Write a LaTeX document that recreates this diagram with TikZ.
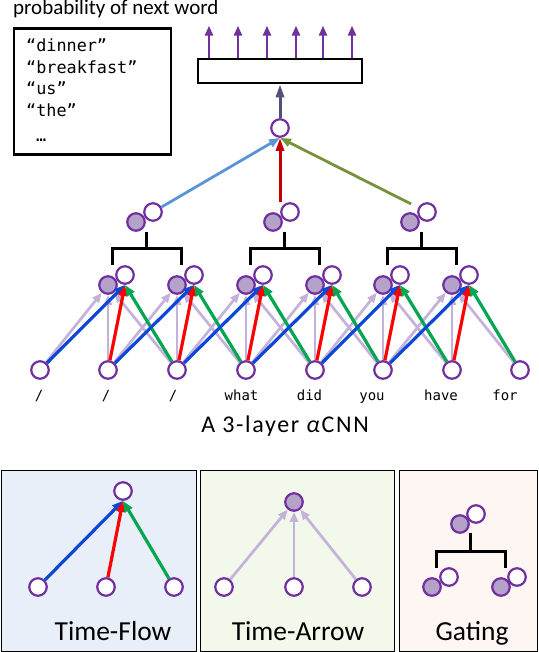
\documentclass[tikz,border=0pt]{standalone}
\usepackage{fontspec}
\setmainfont{Carlito}
\newfontfamily\monof{DejaVu Sans Mono}
\usetikzlibrary{arrows.meta,calc}
\definecolor{purp}{HTML}{7030A0}
\definecolor{lavfill}{HTML}{B4A2C8}
\definecolor{lav}{HTML}{C4B2DA}
\definecolor{blueA}{HTML}{0D47D6}
\definecolor{redA}{HTML}{FF0000}
\definecolor{greenA}{HTML}{00A650}
\definecolor{topblue}{HTML}{5B93D8}
\definecolor{topred}{HTML}{C00000}
\definecolor{topgreen}{HTML}{76923C}
\definecolor{slate}{HTML}{50507A}
\definecolor{pbg1}{HTML}{E8EFF8}
\definecolor{pbg2}{HTML}{F2F8EA}
\definecolor{pbg3}{HTML}{FDF6F2}
\tikzset{
  nd/.style={circle, draw=purp, line width=2.2pt, fill=white, minimum size=17.5pt, inner sep=0pt},
  ndf/.style={nd, fill=lavfill},
  carrow/.style={line width=3.2pt, -{Triangle[width=8.5pt,length=11pt]}},
  lavarrow/.style={draw=lav, line width=2.7pt, -{Triangle[width=8pt,length=10pt]}},
  bracket/.style={line width=3pt, draw=black},
  wordlab/.style={font=\monof\fontsize{14}{14}\selectfont, anchor=base, inner sep=0pt},
  listtxt/.style={font=\monof\fontsize{16.8}{16.8}\selectfont, anchor=base west, inner sep=0pt},
  panellab/.style={font=\fontsize{27.5}{27.5}\selectfont, anchor=base, inner sep=0pt},
}
\begin{document}
\begin{tikzpicture}[x=1pt,y=-1pt]
\useasboundingbox (0,0) rectangle (538,652);

% ---------- title and list box ----------
\node[font=\fontsize{21}{21}\selectfont, anchor=base west, inner sep=0pt] (title) at (13,15) {probability of next word};
\node[draw=black, line width=2.6pt, minimum width=157pt, minimum height=126pt, inner sep=0pt] (list) at (92.5,91.5) {};
\node[listtxt] (l1) at (26,52) {“dinner”};
\node[listtxt] (l2) at (26,73.5) {“breakfast”};
\node[listtxt] (l3) at (26,95) {“us”};
\node[listtxt] (l4) at (26,116.5) {“the”};
\node[listtxt] (l5) at (36,142) {…};

% ---------- output box ----------
\node[draw=black, line width=2.6pt, minimum width=164pt, minimum height=24pt, inner sep=0pt] (out) at (280,71) {};
\foreach \dx in {-71,-42,-13,16,43,72}
  \draw[line width=2.8pt, draw=purp, -{Triangle[width=8pt,length=10pt]}] ([xshift=\dx pt]out.north) -- ++(0,-32);

% ---------- top node ----------
\node[nd] (T) at (280,128) {};
\draw[line width=3pt, draw=slate, -{Triangle[width=8pt,length=13pt]}] (T) -- (out);

% ---------- layer 1 ----------
\foreach \i/\x in {0/40,1/108,2/177,3/246,4/315,5/383,6/452,7/520}
  \node[nd] (b\i) at (\x,370) {};
\foreach \i/\x in {1/108,2/177,3/246,4/315,5/383,6/452}{
  \node[ndf] (f\i) at (\x,285) {};
  \node[nd] (w\i) at (\x+17,275) {};
}
\foreach \i in {1,...,6}{
  \pgfmathtruncatemacro\p{\i-1}
  \pgfmathtruncatemacro\n{\i+1}
  \draw[lavarrow] (b\p) -- (f\i);
  \draw[lavarrow] (b\i) -- (f\i);
  \draw[lavarrow] (b\n) -- (f\i);
}
\foreach \i in {1,...,6}{
  \pgfmathtruncatemacro\p{\i-1}
  \pgfmathtruncatemacro\n{\i+1}
  \draw[carrow, draw=blueA, fill=blueA] (b\p) -- (w\i.south);
  \draw[carrow, draw=redA, fill=redA] (b\i) -- (w\i.south);
  \draw[carrow, draw=greenA, fill=greenA] (b\n) -- (w\i.south);
}

% words
\node[wordlab] (t0) at (39,400) {/};
\node[wordlab] (t1) at (106,400) {/};
\node[wordlab] (t2) at (173,400) {/};
\node[wordlab] (t3) at (241.5,400) {what};
\node[wordlab] (t4) at (309.5,400) {did};
\node[wordlab] (t5) at (372,400) {you};
\node[wordlab] (t6) at (441,400) {have};
\node[wordlab] (t7) at (505,400) {for};

% ---------- layer 3 ----------
\foreach \c/\x in {1/136,2/273,3/410}{
  \node[ndf] (F\c) at (\x,222) {};
  \node[nd] (W\c) at (\x+17,212) {};
}
\foreach \a/\b in {1/2,3/4,5/6}{
  \draw[bracket] ($(f\a)+(4,-20)$) |- ($(f\b)+(4,-37)$) -- ($(f\b)+(4,-20)$);
  \draw[bracket] ($(f\a)!.5!(f\b)+(4,-37)$) -- ($(f\a)!.5!(f\b)+(4,-53)$);
}

% ---------- top connectors ----------
\draw[line width=2.8pt, draw=topblue, fill=topblue, -{Triangle[width=8pt,length=11pt]}] (W1) -- (T.south);
\draw[line width=3pt, draw=topred, fill=topred, -{Triangle[width=8pt,length=13pt]}] (T.south |- W2.north) -- (T.south);
\draw[line width=2.8pt, draw=topgreen, fill=topgreen, -{Triangle[width=8pt,length=11pt]}, shorten <=8pt] (W3) -- (T.south);

% ---------- caption ----------
\node[font=\fontsize{24}{24}\selectfont\addfontfeature{LetterSpace=7}, anchor=base, inner sep=0pt] (cap) at (285,432) {A 3-layer \textit{α}CNN};

% ---------- bottom panels ----------
\draw[fill=pbg1, line width=0.9pt] (1,470) rectangle (196.5,651.5);
\draw[fill=pbg2, line width=0.9pt] (200,470) rectangle (394.5,651.5);
\draw[fill=pbg3, line width=0.9pt] (399,470) rectangle (537,651.5);

% panel 1: time-flow
\node[nd] (pt) at (123,491) {};
\node[nd] (pa) at (38,587) {};
\node[nd] (pb) at (106,587) {};
\node[nd] (pc) at (174,587) {};
\draw[carrow, draw=blueA, fill=blueA] (pa) -- (pt.south);
\draw[carrow, draw=redA, fill=redA] (pb) -- (pt.south);
\draw[carrow, draw=greenA, fill=greenA] (pc) -- (pt.south);
\node[panellab] (lab1) at (113,640) {Time-Flow};

% panel 2: time-arrow
\node[ndf] (qt) at (294,502) {};
\node[nd] (qa) at (224,587) {};
\node[nd] (qb) at (294,587) {};
\node[nd] (qc) at (362,587) {};
\draw[lavarrow] (qa) -- (qt);
\draw[lavarrow] (qb) -- (qt);
\draw[lavarrow] (qc) -- (qt);
\node[panellab] (lab2) at (298,640) {Time-Arrow};

% panel 3: gating
\node[ndf] (g0f) at (460,524) {};
\node[nd] (g0w) at (476,514) {};
\node[ndf] (g1f) at (432,587) {};
\node[nd] (g1w) at (449,577) {};
\node[ndf] (g2f) at (501,587) {};
\node[nd] (g2w) at (517,577) {};
\draw[bracket] ($(g1f)+(4,-19)$) |- ($(g2f)+(4,-36)$) -- ($(g2f)+(4,-19)$);
\draw[bracket] ($(g1f)!.5!(g2f)+(4,-36)$) -- ($(g1f)!.5!(g2f)+(4,-54)$);
\node[panellab] (lab3) at (472,640) {Gating};
\end{tikzpicture}
\end{document}
